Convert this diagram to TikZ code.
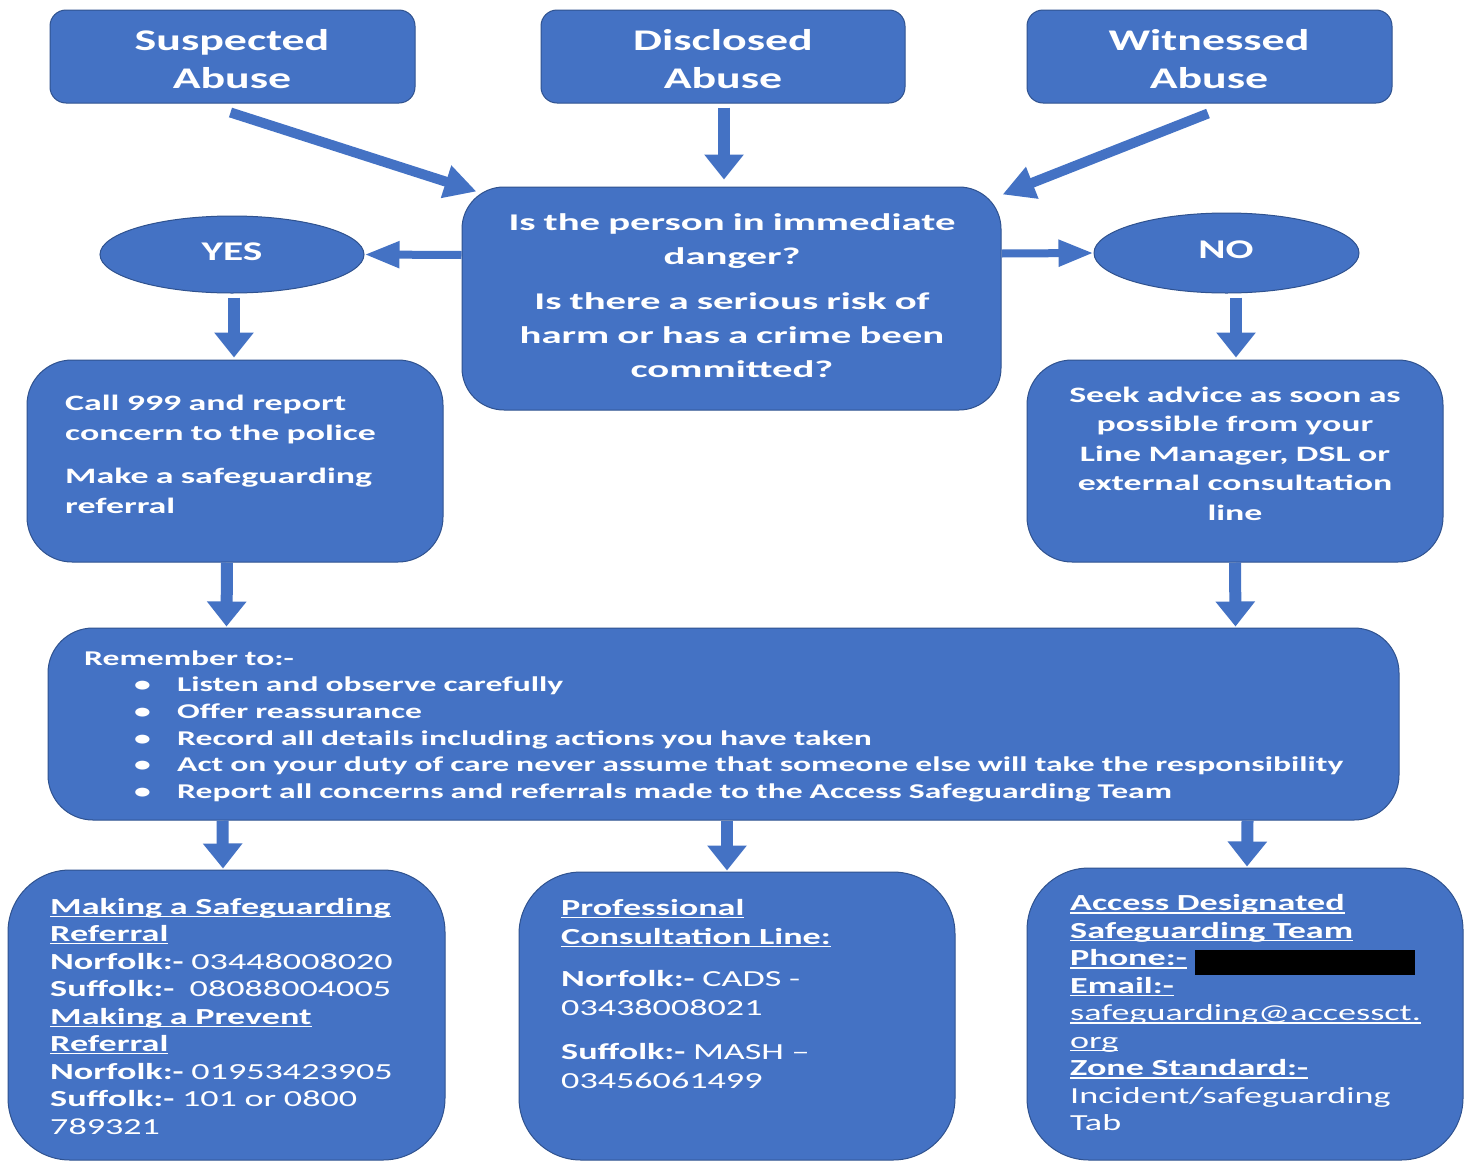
\documentclass[tikz,border=0pt]{standalone}
\usepackage{fontspec}
\setmainfont{Carlito}[FakeStretch=1.5]
\newfontfamily\ftop{Carlito}[FakeStretch=1.53]
\newfontfamily\fq{Carlito}[FakeStretch=1.70]
\newfontfamily\fmid{Carlito}[FakeStretch=1.63]
\newfontfamily\frem{Carlito}[FakeStretch=1.60]
\newfontfamily\fbot{Carlito}[FakeStretch=1.57]
\usetikzlibrary{arrows.meta,shapes.geometric}
\definecolor{boxblue}{HTML}{4472C4}
\definecolor{edgeblue}{HTML}{2F528F}
\newcommand\fsz[2]{\fontsize{#1}{#2}\selectfont}
\newcommand\bul{\hspace*{50pt}\makebox[43pt][l]{\textbullet}}
\newcommand\uln[1]{\leavevmode\setbox0\hbox{#1}\rlap{\rule[-2.8pt]{\wd0}{1.3pt}}\box0}
\tikzset{
  box/.style={draw=edgeblue, line width=1pt, fill=boxblue, rectangle, inner sep=0pt},
  oval/.style={draw=edgeblue, line width=1pt, fill=boxblue, ellipse, inner sep=0pt},
  txt/.style={text=white, inner sep=0pt},
  varrow/.style={draw=boxblue, line width=12pt, -{Triangle[width=38pt,length=25pt]}},
  harrow/.style={draw=boxblue, line width=8pt, -{Triangle[width=25pt,length=35pt]}},
  darrow/.style={draw=boxblue, line width=10pt, -{Triangle[width=32pt,length=32pt]}}
}
\begin{document}
\begin{tikzpicture}[x=1pt,y=-1pt]
\useasboundingbox (0,0) rectangle (1474,1162);
\fill[white] (0,0) rectangle (1474,1162);

% top boxes
\node[box, rounded corners=16pt, minimum width=365pt, minimum height=93pt] (sus) at (232.5,56.5) {};
\node[box, rounded corners=16pt, minimum width=364pt, minimum height=93pt] (dis) at (723,56.5) {};
\node[box, rounded corners=16pt, minimum width=365pt, minimum height=93pt] (wit) at (1209.5,56.5) {};
\node[txt, anchor=base, text width=360pt, align=center, font=\ftop\bfseries\fsz{30}{37.6}] (sust) at (232,50.7) {Suspected\\Abuse};
\node[txt, anchor=base, text width=360pt, align=center, font=\ftop\bfseries\fsz{30}{37.6}] (dist) at (723,50.7) {Disclosed\\Abuse};
\node[txt, anchor=base, text width=360pt, align=center, font=\ftop\bfseries\fsz{30}{37.6}] (witt) at (1209,50.7) {Witnessed\\Abuse};

% question
\node[box, rounded corners=42pt, minimum width=539pt, minimum height=223pt] (q) at (731.5,298.5) {};
\node[txt, anchor=base, text width=530pt, align=center, font=\fq\bfseries\fsz{24}{34}] (qt) at (732,230) {Is the person in immediate\\danger?\\[11pt]Is there a serious risk of\\harm or has a crime been\\committed?};

% yes / no
\node[oval, minimum width=264pt, minimum height=77pt] (yes) at (232,254.5) {};
\node[oval, minimum width=265pt, minimum height=80pt] (no) at (1226.5,253) {};
\node[txt, anchor=base, font=\ftop\bfseries\fsz{27}{30}] (yest) at (232,260.7) {YES};
\node[txt, anchor=base, font=\ftop\bfseries\fsz{27}{30}] (not) at (1226,258) {NO};

% call / seek
\node[box, rounded corners=45pt, minimum width=416pt, minimum height=202pt] (call) at (235,461) {};
\node[box, rounded corners=45pt, minimum width=416pt, minimum height=202pt] (seek) at (1235,461) {};
\node[txt, anchor=base west, text width=370pt, align=left, font=\fmid\bfseries\fsz{22}{30}] (callt) at (65,410) {Call 999 and report\\concern to the police\\[13pt]Make a safeguarding\\referral};
\node[txt, anchor=base, text width=400pt, align=center, font=\fmid\bfseries\fsz{22}{29.5}] (seekt) at (1235,402) {Seek advice as soon as\\possible from your\\Line Manager, DSL or\\external consultation\\line};

% remember
\node[box, rounded corners=45pt, minimum width=1351pt, minimum height=192pt] (rem) at (723.5,724) {};
\node[txt, anchor=base west, text width=1300pt, align=left, font=\frem\bfseries\fsz{21}{26.7}] (remt) at (84,665) {Remember to:-\\
\bul Listen and observe carefully\\
\bul Offer reassurance\\
\bul Record all details including actions you have taken\\
\bul Act on your duty of care never assume that someone else will take the responsibility\\
\bul Report all concerns and referrals made to the Access Safeguarding Team};

% bottom boxes
\node[box, rounded corners=62pt, minimum width=437pt, minimum height=290pt] (bl) at (226.5,1015) {};
\node[box, rounded corners=62pt, minimum width=436pt, minimum height=288pt] (bm) at (737,1016) {};
\node[box, rounded corners=62pt, minimum width=436pt, minimum height=292pt] (br) at (1245,1014) {};

\node[txt, anchor=base west, text width=420pt, align=left, font=\fbot\bfseries\fsz{23}{27.5}] (blt) at (50,914) {\uln{Making a Safeguarding}\\
\uln{Referral}\\
Norfolk:- {\mdseries 03448008020}\\
Suffolk:-\ \ {\mdseries 08088004005}\\
\uln{Making a Prevent}\\
\uln{Referral}\\
Norfolk:- {\mdseries 01953423905}\\
Suffolk:- {\mdseries 101 or 0800}\\
{\mdseries 789321}};

\node[txt, anchor=base west, text width=390pt, align=left, font=\fbot\bfseries\fsz{23}{29}] (bmt) at (561,915) {\uln{Professional}\\
\uln{Consultation Line:}\\[13pt]
Norfolk:- {\mdseries CADS -}\\
{\mdseries 03438008021}\\[15pt]
Suffolk:- {\mdseries MASH –}\\
{\mdseries 03456061499}};

\node[txt, anchor=base west, text width=390pt, align=left, font=\fbot\bfseries\fsz{23}{27.5}] (brt) at (1070,910.7) {\uln{Access Designated}\\
\uln{Safeguarding Team}\\
\uln{Phone:-}\\
\uln{Email:-}\\
{\mdseries\uln{safeguarding@accessct.}}\\
{\mdseries\uln{org}}\\
\uln{Zone Standard:-}\\
{\mdseries Incident/safeguarding}\\
{\mdseries Tab}};
\node[fill=black, inner sep=0pt, minimum width=220pt, minimum height=25pt, anchor=north west] (redact) at (1195,950) {};

% arrows
\draw[darrow] ([xshift=-2pt,yshift=-9pt]sus.south) -- ([xshift=15pt,yshift=-5pt]q.north west);
\draw[varrow] ([xshift=1pt,yshift=-4pt]dis.south) -- ([xshift=-7.5pt,yshift=7pt]q.north);
\draw[darrow] ([xshift=-1.5pt,yshift=-10pt]wit.south) -- ([xshift=1pt,yshift=-8pt]q.north east);
\draw[harrow] ([yshift=43.5pt]q.west) -- (yes.east);
\draw[harrow] ([yshift=45pt]q.east) -- (no.west);
\draw[varrow] ([xshift=2pt,yshift=-4pt]yes.south) -- ([xshift=-1pt,yshift=2pt]call.north);
\draw[varrow] ([xshift=9.5pt,yshift=-4pt]no.south) -- ([xshift=1pt,yshift=2pt]seek.north);
\draw[varrow] ([xshift=-8pt]call.south) -- ([xshift=179pt,yshift=1pt]rem.north west);
\draw[varrow] (seek.south) -- ([xshift=-164pt,yshift=1pt]rem.north east);
\draw[varrow] ([xshift=175pt]rem.south west) -- ([xshift=-3.5pt,yshift=1pt]bl.north);
\draw[varrow] ([xshift=3.5pt]rem.south) -- ([xshift=-10pt,yshift=1pt]bm.north);
\draw[varrow] ([xshift=-152pt]rem.south east) -- ([xshift=2pt,yshift=1pt]br.north);
\end{tikzpicture}
\end{document}
